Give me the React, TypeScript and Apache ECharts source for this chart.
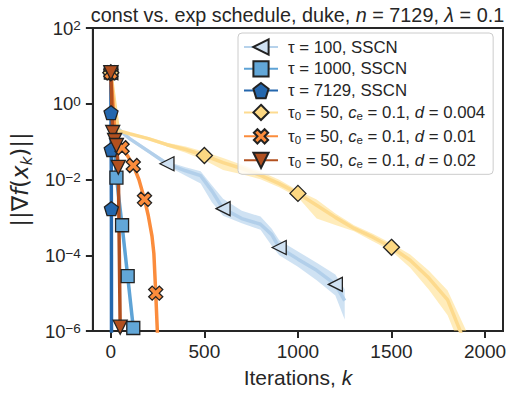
import React, { useEffect, useRef } from "react";
import * as echarts from "echarts";

// ---- data (values of ||grad f(x_k)||) ----
const TAU100_K = [0, 20, 100, 200, 300, 400, 480, 540, 600, 700, 800, 860, 900, 1000, 1100, 1200, 1250];
const TAU100_V = [6.6, 0.26, 0.12, 0.056, 0.026, 0.017, 0.0126, 0.005, 0.0017, 0.00093, 0.00066, 0.00035, 0.00016, 7.9e-5, 4.0e-5, 1.7e-5, 6.3e-6];
const TAU100_HI = [6.6, 0.3, 0.135, 0.063, 0.03, 0.021, 0.0166, 0.0071, 0.0031, 0.0015, 0.00105, 0.0005, 0.00025, 0.000126, 6.3e-5, 3.1e-5, 1.26e-5];
const TAU100_LO = [6.6, 0.234, 0.107, 0.05, 0.023, 0.0126, 0.0079, 0.0025, 0.0011, 0.0007, 0.00047, 0.000178, 0.0001, 5.0e-5, 2.2e-5, 8.7e-6, 2.0e-6];

const TAU1000_K = [0, 10, 20, 30, 60, 90, 120, 130];
const TAU1000_V = [6.6, 0.4, 0.063, 0.0112, 0.00062, 2.8e-5, 1.2e-6, 4.0e-7];

const TAU7129_K = [0, 1, 2, 3, 4];
const TAU7129_V = [6.6, 0.58, 0.062, 0.0017, 1e-8];

const D004_K = [0, 40, 100, 200, 300, 400, 500, 600, 700, 800, 900, 1000, 1100, 1200, 1300, 1400, 1500, 1600, 1700, 1800, 1900];
const D004_V = [6.6, 0.195, 0.162, 0.12, 0.083, 0.062, 0.043, 0.028, 0.0195, 0.0129, 0.0078, 0.0043, 0.0021, 0.001, 0.00051, 0.0003, 0.000162, 7.4e-5, 2.5e-5, 6.6e-6, 4.0e-7];
const D004_HI = [6.6, 0.204, 0.174, 0.132, 0.093, 0.074, 0.054, 0.037, 0.0245, 0.0162, 0.0098, 0.0051, 0.00295, 0.00126, 0.00062, 0.00037, 0.000204, 0.000105, 3.9e-5, 1.17e-5, 1.0e-6];
const D004_LO = [6.6, 0.186, 0.151, 0.11, 0.074, 0.051, 0.032, 0.0178, 0.0138, 0.0102, 0.0062, 0.0034, 0.00093, 0.00063, 0.00043, 0.000234, 0.000129, 4.7e-5, 1.23e-5, 2.6e-6, 1.6e-7];

const D01_K = [0, 20, 40, 60, 90, 120, 150, 180, 200, 220, 230, 240, 252];
const D01_V = [6.6, 0.24, 0.112, 0.069, 0.042, 0.0234, 0.01, 0.003, 0.00112, 0.00032, 0.000112, 1.0e-5, 4.0e-7];

const D02_K = [0, 10, 20, 30, 40, 50, 55];
const D02_V = [6.6, 0.174, 0.107, 0.079, 0.021, 1.26e-6, 3.2e-8];

const X_TICKS = [0, 500, 1000, 1500, 2000];

const NAMES = [
  "τ = 100, SSCN",
  "τ = 1000, SSCN",
  "τ = 7129, SSCN",
  "τ0 = 50, ce = 0.1, d = 0.004",
  "τ0 = 50, ce = 0.1, d = 0.01",
  "τ0 = 50, ce = 0.1, d = 0.02",
];
const LEGEND_RICH: Record<string, string> = {
  [NAMES[0]]: "{t|τ = 100, SSCN}{sub| }",
  [NAMES[1]]: "{t|τ = 1000, SSCN}{sub| }",
  [NAMES[2]]: "{t|τ = 7129, SSCN}{sub| }",
  [NAMES[3]]: "{t|τ}{sub|0}{t| = 50, }{i|c}{sub|e}{t| = 0.1, }{i|d}{t| = 0.004}",
  [NAMES[4]]: "{t|τ}{sub|0}{t| = 50, }{i|c}{sub|e}{t| = 0.1, }{i|d}{t| = 0.01}",
  [NAMES[5]]: "{t|τ}{sub|0}{t| = 50, }{i|c}{sub|e}{t| = 0.1, }{i|d}{t| = 0.02}",
};

const FONT = "'Liberation Sans', Arial, 'DejaVu Sans', sans-serif";
const MATH = "'DejaVu Sans', sans-serif";
const INK = "#262626";
const PENTAGON = "path://M0,-10L9.51,-3.09L5.88,8.09L-5.88,8.09L-9.51,-3.09Z";
const PLUS = "path://M-3.3,-10L3.3,-10L3.3,-3.3L10,-3.3L10,3.3L3.3,3.3L3.3,10L-3.3,10L-3.3,3.3L-10,3.3L-10,-3.3L-3.3,-3.3Z";

function lineData(k: number[], v: number[], every: number) {
  return k.map((kk, i) =>
    kk % every === 0 ? { value: [kk, v[i]] } : { value: [kk, v[i]], symbol: "none" }
  );
}

function band(k: number[], lo: number[], hi: number[], fill: string) {
  return {
    type: "custom",
    coordinateSystem: "cartesian2d",
    silent: true,
    clip: true,
    z: 1,
    data: [[k[0], hi[0]]],
    renderItem: (params: any, api: any) => {
      const pts: number[][] = [];
      for (let i = 0; i < k.length; i++) pts.push(api.coord([k[i], hi[i]]));
      for (let i = k.length - 1; i >= 0; i--) pts.push(api.coord([k[i], lo[i]]));
      const cs = params.coordSys;
      return {
        type: "polygon",
        shape: { points: pts },
        style: { fill },
        clipPath: { type: "rect", shape: { x: cs.x, y: cs.y, width: cs.width, height: cs.height } },
      };
    },
  };
}

function line(name: string, k: number[], v: number[], every: number, color: string, symbol: string, size: number, rotate: number, fill: string, opacity = 1) {
  return {
    name,
    type: "line",
    data: lineData(k, v, every),
    z: 3,
    showSymbol: true,
    showAllSymbol: true,
    symbol,
    symbolSize: size,
    symbolRotate: rotate,
    clip: true,
    lineStyle: { color, width: 3.5, opacity },
    itemStyle: { color: fill, borderColor: "#222222", borderWidth: 1.3, opacity: 1 },
    emphasis: { disabled: true },
  };
}

export default function App() {
  const ref = useRef<HTMLDivElement>(null);
  useEffect(() => {
    if (!ref.current) return;
    const chart = echarts.init(ref.current, undefined, { renderer: "svg" });
    const option: any = {
      animation: false,
      backgroundColor: "#ffffff",
      textStyle: { fontFamily: FONT },
      grid: { left: 92, right: 12, top: 28, bottom: 67, show: true, borderColor: INK, borderWidth: 2, backgroundColor: "transparent" },
      graphic: [
        {
          type: "text",
          x: 297.5,
          y: 15,
          style: {
            text: "{t|const vs. exp schedule, duke, }{i|n}{t| = 7129, }{i|λ}{t| = 0.1}",
            align: "center",
            verticalAlign: "middle",
            rich: {
              t: { fontFamily: FONT, fontSize: 19.8, fill: INK, color: INK },
              i: { fontFamily: FONT, fontSize: 19.8, fontStyle: "italic", fill: INK, color: INK },
            },
          },
        },
      ],
      xAxis: {
        type: "value",
        min: -96,
        max: 2096,
        splitLine: { show: false },
        axisLine: { show: true, onZero: false, lineStyle: { color: INK, width: 2 } },
        axisTick: { show: true, length: 7, customValues: X_TICKS, lineStyle: { color: INK, width: 2 } },
        axisLabel: {
          customValues: X_TICKS,
          fontSize: 19,
          color: INK,
          margin: 11,
          fontFamily: FONT,
          formatter: (v: number) => String(Math.round(v)),
        },
        name: "Iterations, {i|k}",
        nameLocation: "middle",
        nameGap: 36,
        nameTextStyle: {
          fontSize: 21,
          color: INK,
          fontFamily: FONT,
          rich: { i: { fontSize: 21, fontStyle: "italic", color: INK, fontFamily: FONT } },
        },
      },
      yAxis: {
        type: "log",
        logBase: 10,
        min: 1e-6,
        max: 100,
        interval: 2,
        splitLine: { show: false },
        minorTick: { show: false },
        axisLine: { show: true, onZero: false, lineStyle: { color: INK, width: 2 } },
        axisTick: { show: true, length: 7, lineStyle: { color: INK, width: 2 } },
        axisLabel: {
          margin: 12,
          formatter: (val: number) => {
            const e = Math.round(Math.log10(val));
            return `{b|10}{s|${e < 0 ? "−" + -e : e}}`;
          },
          rich: {
            b: { fontSize: 18.5, lineHeight: 18.5, padding: [7, 0, 7, 0], color: INK, fontFamily: FONT },
            s: { fontSize: 13.5, lineHeight: 13.5, verticalAlign: "top", color: INK, fontFamily: FONT },
          },
        },
        name: "{n|||∇}{i|f}{n|(}{i|x}{sub|k}{n|)||}",
        nameLocation: "middle",
        nameRotate: 90,
        nameGap: 45,
        nameTextStyle: {
          color: INK,
          rich: {
            n: { fontSize: 23, lineHeight: 23, verticalAlign: "top", color: INK, fontFamily: MATH },
            i: { fontSize: 23, lineHeight: 23, verticalAlign: "top", fontStyle: "italic", color: INK, fontFamily: MATH },
            sub: { fontSize: 15, lineHeight: 15, padding: [11, 0, 0, 0], verticalAlign: "top", fontStyle: "italic", color: INK, fontFamily: MATH },
          },
        },
      },
      legend: {
        data: NAMES,
        left: 238,
        top: 33,
        orient: "vertical",
        padding: [4, 8, 4, 5],
        itemWidth: 34,
        itemHeight: 19,
        itemGap: 1.8,
        backgroundColor: "rgba(255,255,255,0.8)",
        borderColor: "#cccccc",
        borderWidth: 1,
        borderRadius: 4,
        formatter: (name: string) => LEGEND_RICH[name],
        textStyle: {
          padding: [0, 0, 0, 5],
          rich: {
            t: { fontSize: 16.8, lineHeight: 19, color: INK, fontFamily: FONT },
            i: { fontSize: 16.8, lineHeight: 19, fontStyle: "italic", color: INK, fontFamily: FONT },
            sub: { fontSize: 11.5, lineHeight: 11, padding: [8, 0, 0, 0], color: INK, fontFamily: FONT },
          },
        },
      },
      series: [
        band(TAU100_K, TAU100_LO, TAU100_HI, "rgba(160,198,232,0.5)"),
        band(D004_K, D004_LO, D004_HI, "rgba(254,212,105,0.45)"),
        line(NAMES[0], TAU100_K, TAU100_V, 300, "#aecde9", "triangle", 14, 90, "#cfe1f2", 0.9),
        line(NAMES[1], TAU1000_K, TAU1000_V, 30, "#5ea3d6", "rect", 13, 0, "#62a7d8"),
        line(NAMES[2], TAU7129_K, TAU7129_V, 1, "#2467ad", PENTAGON, 14, 0, "#2467ad"),
        line(NAMES[3], D004_K, D004_V, 500, "#fdd98a", "diamond", 16, 0, "#fdd882", 0.95),
        line(NAMES[4], D01_K, D01_V, 60, "#fb8c3c", PLUS, 15, 45, "#fb8c3c"),
        line(NAMES[5], D02_K, D02_V, 10, "#b2501f", "triangle", 14, 180, "#b2501f"),
      ],
    };
    chart.setOption(option);
    return () => chart.dispose();
  }, []);
  return (
    <div
      ref={ref}
      style={{ position: "fixed", left: 0, top: 0, width: 515, height: 398, background: "#fff" }}
    />
  );
}
